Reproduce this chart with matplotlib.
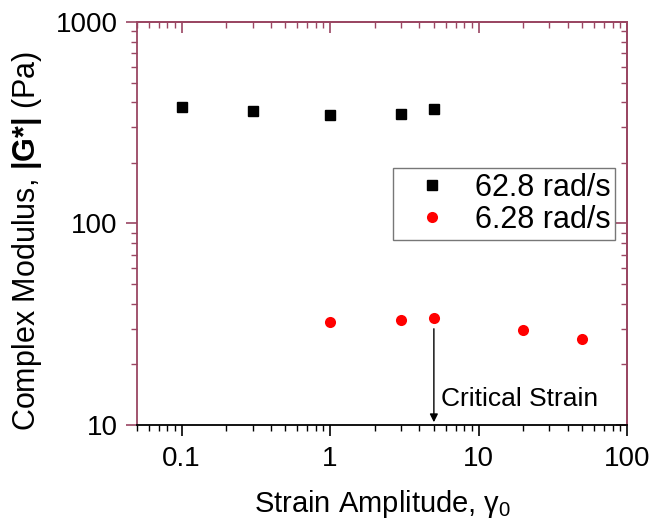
import matplotlib
matplotlib.use("Agg")
import matplotlib.pyplot as plt
from matplotlib.ticker import LogLocator, NullFormatter, FixedLocator, FixedFormatter

plt.rcParams['font.family'] = ['Liberation Sans', 'DejaVu Sans']
plt.rcParams['mathtext.fontset'] = 'custom'
plt.rcParams['mathtext.rm'] = 'Liberation Sans'
plt.rcParams['mathtext.it'] = 'Liberation Sans'
plt.rcParams['mathtext.bf'] = 'Liberation Sans:bold'

# Data
strain_high = [0.1, 0.3, 1, 3, 5]
modulus_high = [378, 362, 345, 349, 370]
strain_low = [1, 3, 5, 20, 50]
modulus_low = [32.4, 33.2, 34.0, 29.6, 26.7]
series_labels = ["62.8 rad/s", "6.28 rad/s"]
critical_strain = 5
x_ticks = [0.1, 1, 10, 100]
x_tick_labels = ["0.1", "1", "10", "100"]
y_ticks = [10, 100, 1000]
y_tick_labels = ["10", "100", "1000"]

maroon = '#9a4662'

fig = plt.figure(figsize=(6.52, 5.26), dpi=100)
ax = fig.add_axes([137/652, 1 - 425/526, (627-137)/652, (425-22)/526])
ax.set_xscale('log')
ax.set_yscale('log')
ax.set_xlim(0.05, 100)
ax.set_ylim(10, 1000)

ax.plot(strain_high, modulus_high, 's', color='black', markersize=7, label=series_labels[0], linestyle='none')
ax.plot(strain_low, modulus_low, 'o', color='#ff0000', markersize=8, markeredgewidth=0, label=series_labels[1], linestyle='none')

# Critical strain arrow
ax.annotate('', xy=(critical_strain, 10), xytext=(critical_strain, 31),
            arrowprops=dict(arrowstyle='-|>', color='black', lw=1.0, mutation_scale=12))
ax.text(5.55, 13.4, 'Critical Strain', fontsize=19, ha='left', va='center')

# Ticks
ax.xaxis.set_major_locator(FixedLocator(x_ticks))
ax.xaxis.set_major_formatter(FixedFormatter(x_tick_labels))
ax.xaxis.set_minor_locator(LogLocator(base=10, subs=range(2, 10)))
ax.xaxis.set_minor_formatter(NullFormatter())
ax.yaxis.set_major_locator(FixedLocator(y_ticks))
ax.yaxis.set_major_formatter(FixedFormatter(y_tick_labels))
ax.yaxis.set_minor_locator(LogLocator(base=10, subs=range(2, 10)))
ax.yaxis.set_minor_formatter(NullFormatter())

ax.tick_params(which='major', direction='out', length=8, width=1.2, labelsize=20, pad=6)
ax.tick_params(which='minor', direction='out', length=4, width=1.0)
ax.tick_params(axis='x', which='both', colors='black')
ax.tick_params(axis='y', which='both', color=maroon, labelcolor='black')
ax.tick_params(axis='x', pad=7)

for s in ['top', 'right', 'left']:
    ax.spines[s].set_color(maroon)
    ax.spines[s].set_linewidth(1.3)
ax.spines['bottom'].set_color('black')
ax.spines['bottom'].set_linewidth(1.3)

# Top and right inward ticks
top = ax.secondary_xaxis('top')
top.set_xscale('log')
top.xaxis.set_major_locator(FixedLocator(x_ticks))
top.xaxis.set_minor_locator(LogLocator(base=10, subs=range(2, 10)))
top.xaxis.set_major_formatter(NullFormatter())
top.xaxis.set_minor_formatter(NullFormatter())
top.tick_params(which='major', direction='in', length=8, width=1.2, color=maroon)
top.tick_params(which='minor', direction='in', length=4, width=1.0, color=maroon)
top.spines['top'].set_color(maroon)
top.spines['top'].set_linewidth(1.3)

right = ax.secondary_yaxis('right')
right.set_yscale('log')
right.yaxis.set_major_locator(FixedLocator(y_ticks))
right.yaxis.set_minor_locator(LogLocator(base=10, subs=range(2, 10)))
right.yaxis.set_major_formatter(NullFormatter())
right.yaxis.set_minor_formatter(NullFormatter())
right.tick_params(which='major', direction='in', length=8, width=1.2, color=maroon)
right.tick_params(which='minor', direction='in', length=4, width=1.0, color=maroon)
right.spines['right'].set_color(maroon)
right.spines['right'].set_linewidth(1.3)

ax.set_xlabel(r'Strain Amplitude, $\gamma_0$', fontsize=21, labelpad=12)
ax.set_ylabel(r'Complex Modulus, $\mathbf{|G{*}|}$ (Pa)', fontsize=22)
ax.yaxis.set_label_coords(-(137-44)/490, 1 - (241-22)/403)

leg = ax.legend(loc='upper left', bbox_to_anchor=((393-137)/490, 1 - (168-22)/403),
                fontsize=22, frameon=True, fancybox=False, edgecolor='#555555',
                borderpad=0.15, handletextpad=0.28, labelspacing=0.08, markerfirst=True,
                handlelength=2.26, borderaxespad=0)
leg.get_frame().set_linewidth(1.0)

fig.savefig('out.png', dpi=100)
